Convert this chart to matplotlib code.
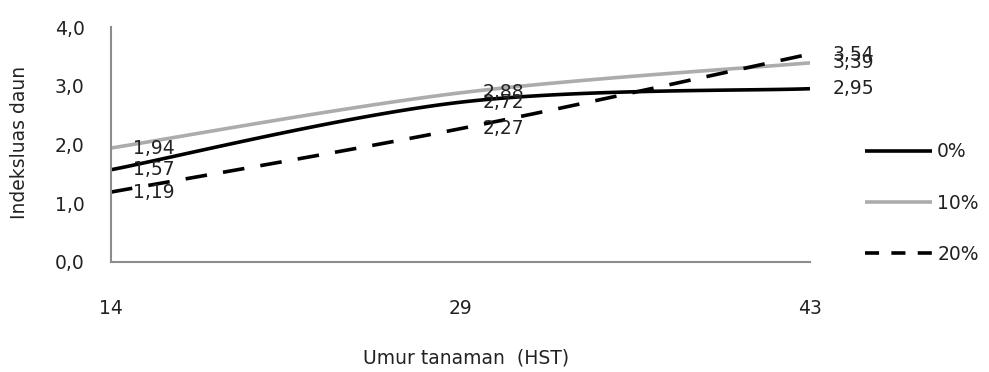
import matplotlib
matplotlib.use('Agg')
import matplotlib.pyplot as plt
import numpy as np

plt.rcParams['font.family'] = ['DejaVu Sans']

umur = ['14', '29', '43']
series_names = ['0%', '10%', '20%']
isd_0 = [1.57, 2.72, 2.95]
isd_10 = [1.94, 2.88, 3.39]
isd_20 = [1.19, 2.27, 3.54]
yticks = [0.0, 1.0, 2.0, 3.0, 4.0]

FS = 13.5
TXT = '#222222'


def smooth(x, y, n=60):
    # bezier segments like the spreadsheet "smoothed line" option
    x = np.asarray(x, float)
    y = np.asarray(y, float)
    px = np.concatenate([[x[0]], x, [x[-1]]])
    py = np.concatenate([[y[0]], y, [y[-1]]])
    xs, ys = [], []
    t = np.linspace(0, 1, n)
    for i in range(len(x) - 1):
        p0 = np.array([px[i + 1], py[i + 1]])
        p3 = np.array([px[i + 2], py[i + 2]])
        p1 = p0 + (np.array([px[i + 2], py[i + 2]]) - np.array([px[i], py[i]])) / 6
        p2 = p3 - (np.array([px[i + 3], py[i + 3]]) - np.array([px[i + 1], py[i + 1]])) / 6
        b = ((1 - t) ** 3)[:, None] * p0 + (3 * (1 - t) ** 2 * t)[:, None] * p1 \
            + (3 * (1 - t) * t ** 2)[:, None] * p2 + (t ** 3)[:, None] * p3
        xs.extend(b[:, 0])
        ys.extend(b[:, 1])
    return np.array(xs), np.array(ys)


fig = plt.figure(figsize=(9.89, 3.72), dpi=100)
ax = fig.add_axes([0.1122, 0.2957, 0.7068, 0.6317])

xpos = np.arange(len(umur))
styles = [
    dict(color='black', lw=2.6, ls='-'),
    dict(color='#acacac', lw=2.6, ls='-'),
    dict(color='black', lw=2.6, ls=(0, (6, 4.5))),
]
for vals, name, st in zip([isd_0, isd_10, isd_20], series_names, styles):
    sx, sy = smooth(xpos, vals)
    ax.plot(sx, sy, label=name, solid_capstyle='butt', dash_capstyle='butt', **st)
    for xi, v in zip(xpos, vals):
        ax.annotate(('%.2f' % v).replace('.', ','), (xi, v), xytext=(16, 0),
                    textcoords='offset points', va='center', ha='left',
                    fontsize=FS, color=TXT)

ax.set_xlim(0, 2)
ax.set_ylim(0, 4)
ax.set_xticks(xpos)
ax.set_xticklabels(umur)
ax.set_yticks(yticks)
ax.set_yticklabels([('%.1f' % v).replace('.', ',') for v in yticks])
ax.tick_params(length=0, labelsize=FS, colors=TXT)
ax.tick_params(axis='x', pad=27)
ax.tick_params(axis='y', pad=19)

for s in ['top', 'right']:
    ax.spines[s].set_visible(False)
for s in ['left', 'bottom']:
    ax.spines[s].set_color('#8c8c8c')
    ax.spines[s].set_linewidth(1.5)

fig.text(0.471, 0.038, 'Umur tanaman  (HST)', ha='center', va='center',
         fontsize=FS, color=TXT)
fig.text(0.0202, 0.616, 'Indeksluas daun', ha='center', va='center',
         rotation=90, fontsize=FS, color=TXT)

leg = ax.legend(loc='center left', bbox_to_anchor=(0.8746, 0.4543),
                bbox_transform=fig.transFigure, frameon=False, fontsize=FS,
                handlelength=3.6, handletextpad=0.25, labelspacing=1.72,
                borderpad=0, borderaxespad=0, labelcolor=TXT)
# shorter dashes in the legend key
leg.get_lines()[2].set_linestyle((0, (3.9, 3.4)))

fig.savefig('out.png', dpi=100)
